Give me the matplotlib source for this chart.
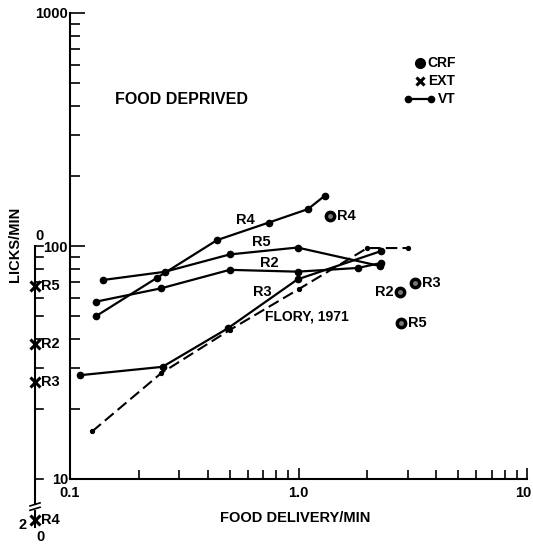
import numpy as np
import matplotlib.pyplot as plt
import matplotlib.transforms as mtransforms
from matplotlib.ticker import FixedLocator, NullFormatter

plt.rcParams['font.family'] = ['Liberation Sans', 'DejaVu Sans']
plt.rcParams['font.weight'] = 'bold'

# VT curves: food delivery/min vs licks/min
r4_x = [0.13, 0.24, 0.44, 0.74, 1.10, 1.30]
r4_y = [50, 73, 106, 126, 144, 164]
r5_x = [0.14, 0.26, 0.50, 0.99, 2.28]
r5_y = [71.5, 77.5, 92, 98.5, 82]
r2_x = [0.13, 0.25, 0.50, 0.99, 1.82, 2.29]
r2_y = [57.7, 65.8, 79, 77.6, 80.5, 84.5]
r3_x = [0.111, 0.254, 0.49, 0.99, 2.29]
r3_y = [27.9, 30.3, 44.3, 71.9, 95]
flory_x = [0.125, 0.25, 0.5, 1.0, 2.0, 3.0]
flory_y = [16, 28.4, 43.6, 65.2, 98, 98]

# CRF points
crf_names = ['R4', 'R2', 'R3', 'R5']
crf_x = [1.37, 2.79, 3.24, 2.80]
crf_y = [134, 63.7, 69.2, 46.9]

# EXT rates (R4 = 0, shown below the axis break)
ext_names = ['R5', 'R2', 'R3', 'R4']
ext_y = [67.3, 37.9, 26.2, 0]

W, H = 533, 545
fig = plt.figure(figsize=(W / 100, H / 100), dpi=100)
ax = fig.add_axes([70 / W, 1 - 479 / H, 457 / W, 466 / H])
ax.set_xscale('log')
ax.set_yscale('log')
ax.set_xlim(0.1, 10)
ax.set_ylim(10, 1000)

for s in ['top', 'right']:
    ax.spines[s].set_visible(False)
for s in ['left', 'bottom']:
    ax.spines[s].set_linewidth(1.5)

ax.xaxis.set_major_locator(FixedLocator([0.1, 1, 10]))
ax.set_xticklabels(['0.1', '1.0', '10'])
ax.xaxis.set_minor_locator(FixedLocator([k * 0.1 for k in range(2, 10)] + list(range(2, 10))))
ax.xaxis.set_minor_formatter(NullFormatter())
ax.yaxis.set_major_locator(FixedLocator([10, 100, 1000]))
ax.set_yticklabels(['10', '100', '1000'])
ax.yaxis.set_minor_locator(FixedLocator([k * 10 for k in range(2, 10)] + [k * 100 for k in range(2, 10)]))
ax.yaxis.set_minor_formatter(NullFormatter())
ax.tick_params(axis='x', which='major', direction='in', length=8, width=1.2, pad=5, labelsize=10.5)
ax.tick_params(axis='x', which='minor', direction='in', length=6.5, width=1.2)
ax.tick_params(axis='y', which='major', direction='in', length=11, width=1.2, pad=1.5, labelsize=10.5)
ax.tick_params(axis='y', which='minor', direction='in', length=7, width=1.2)

# keep the last x label inside the figure
last = ax.get_xticklabels()[-1]
last.set_horizontalalignment('right')
last.set_transform(last.get_transform() + mtransforms.ScaledTranslation(4 / 100, 0, fig.dpi_scale_trans))

# VT lines
for xs, ys in [(r4_x, r4_y), (r5_x, r5_y), (r2_x, r2_y), (r3_x, r3_y)]:
    ax.plot(xs, ys, '-o', color='k', lw=1.6, ms=4.5)
ax.plot(flory_x, flory_y, color='k', lw=1.5, ls=(0, (5.5, 2.5)), marker='o', ms=2.8)

# CRF
ax.plot(crf_x, crf_y, 'o', color='k', ms=7.5)
ax.plot(crf_x, crf_y, 'o', color='#777777', ms=2.5)
offsets = {'R4': (5, 0, 'left'), 'R2': (-5, 0, 'right'), 'R3': (5, 0, 'left'), 'R5': (5, 0, 'left')}
for name, x, y in zip(crf_names, crf_x, crf_y):
    dx, dy, ha = offsets[name]
    ax.annotate(name, (x, y), xytext=(dx, dy), textcoords='offset points',
                ha=ha, va='center', fontsize=10.5)

# curve labels
ax.text(0.583, 129, 'R4', ha='center', va='center', fontsize=10.5)
ax.text(0.686, 104.5, 'R5', ha='center', va='center', fontsize=10.5)
ax.text(0.743, 84.5, 'R2', ha='center', va='center', fontsize=10.5)
ax.text(0.692, 63.5, 'R3', ha='center', va='center', fontsize=10.5)
ax.text(0.713, 49.6, 'FLORY, 1971', ha='left', va='center', fontsize=10)
ax.text(0.308, 424, 'FOOD DEPRIVED', ha='center', va='center', fontsize=11.5)

# secondary (EXT) axis to the left of the main axis
trans = mtransforms.blended_transform_factory(ax.transAxes, ax.transData)
ext_pos = -35 / 457
tick_len = 8 / 457
zero_at = 6.65
ax.plot([ext_pos, ext_pos], [100, 7.9], color='k', lw=1.5, transform=trans, clip_on=False)
ax.plot([ext_pos, ext_pos], [7.3, 6.2], color='k', lw=1.5, transform=trans, clip_on=False)
for v in range(10, 101, 10):
    ax.plot([ext_pos, ext_pos + tick_len], [v, v], color='k', lw=1.2, transform=trans, clip_on=False)
for yb in [7.78, 7.45]:
    ax.plot([ext_pos - 0.011, ext_pos + 0.011], [yb * 0.985, yb * 1.015], color='k', lw=1.2,
            transform=trans, clip_on=False)
ext_plot_y = [v if v > 0 else zero_at for v in ext_y]
ax.plot([ext_pos] * len(ext_y), ext_plot_y, 'x', color='k', ms=7, mew=2.2,
        transform=trans, clip_on=False)
for name, y in zip(ext_names, ext_plot_y):
    ax.annotate(name, (ext_pos, y), xycoords=trans, xytext=(4, 0), textcoords='offset points',
                ha='left', va='center', fontsize=10.5, annotation_clip=False)

# legend
ax.plot([0.766], [0.892], 'o', color='k', ms=7, transform=ax.transAxes)
ax.text(0.783, 0.892, 'CRF', transform=ax.transAxes, ha='left', va='center', fontsize=10)
ax.plot([0.766], [0.855], 'x', color='k', ms=6, mew=2.2, transform=ax.transAxes)
ax.text(0.783, 0.855, 'EXT', transform=ax.transAxes, ha='left', va='center', fontsize=10)
ax.plot([0.740, 0.790], [0.815, 0.815], '-o', color='k', lw=1.6, ms=4.5, transform=ax.transAxes)
ax.text(0.805, 0.815, 'VT', transform=ax.transAxes, ha='left', va='center', fontsize=10)

# figure-level texts
def px(x, y):
    return x / W, 1 - y / H

fig.text(*px(15, 244), 'LICKS/MIN', rotation=90, ha='center', va='center', fontsize=10.5)
fig.text(*px(295, 518), 'FOOD DELIVERY/MIN', ha='center', va='center', fontsize=10.5)
fig.text(*px(39, 236), '0', ha='center', va='center', fontsize=10.5)
fig.text(*px(23, 525), '2', ha='center', va='center', fontsize=10.5)
fig.text(*px(40, 537), '0', ha='center', va='center', fontsize=10.5)

fig.savefig('out.png', dpi=100)
